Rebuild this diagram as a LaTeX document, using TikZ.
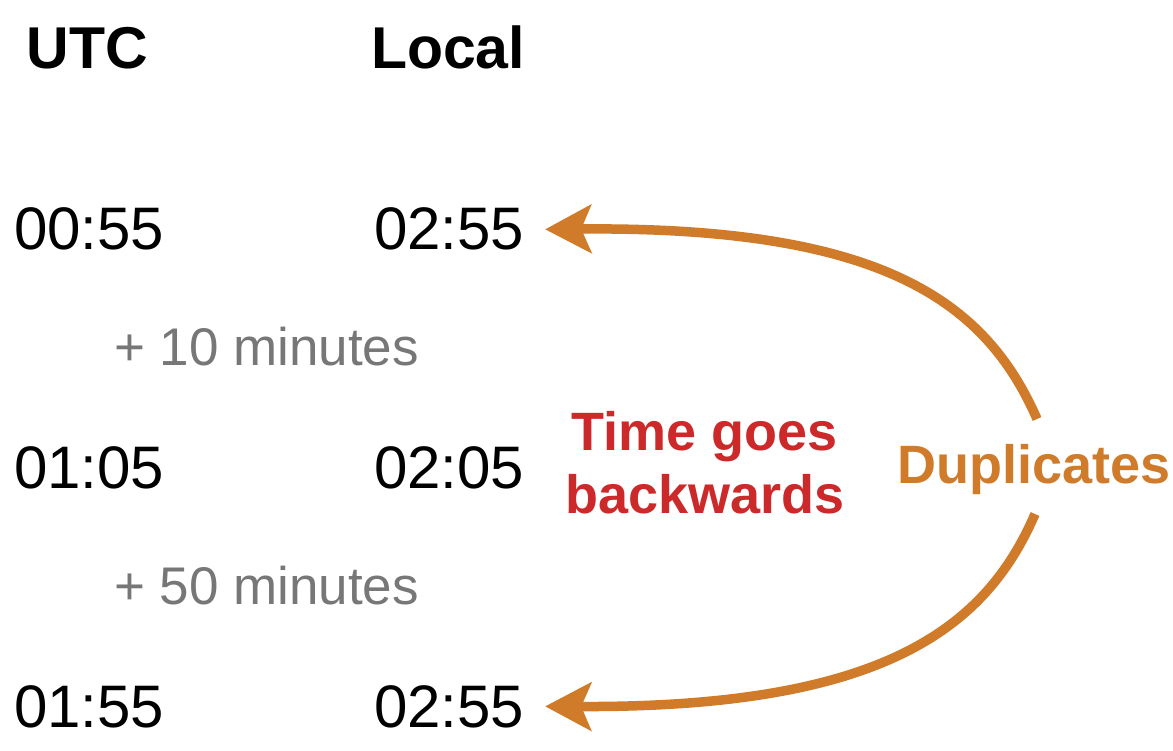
\documentclass[tikz,border=0pt]{standalone}
\usepackage{fontspec}
\setmainfont{Liberation Sans}
\usetikzlibrary{arrows.meta}
\definecolor{dupc}{HTML}{CF7B2A}
\definecolor{redc}{HTML}{CC2A2A}
\definecolor{grayc}{HTML}{777777}
\tikzset{
  txt/.style={anchor=base west, inner sep=0pt, outer sep=0pt},
  hdr/.style={txt, font=\fontsize{59}{62}\selectfont\bfseries},
  tm/.style={txt, font=\fontsize{60}{62}\selectfont},
  dlt/.style={txt, text=grayc, font=\fontsize{53}{56}\selectfont},
  rlbl/.style={anchor=base, inner sep=0pt, text=redc, font=\fontsize{54}{56}\selectfont\bfseries},
  dlbl/.style={anchor=base west, inner sep=0pt, text=dupc, font=\fontsize{54}{56}\selectfont\bfseries},
  duparrow/.style={draw=dupc, line width=9.5pt, -{Stealth[length=46pt,width=48pt,inset=10pt]}}
}
\begin{document}
\begin{tikzpicture}[x=1pt,y=-1pt]
\useasboundingbox (0,0) rectangle (1173,750);
\node[hdr] (utc) at (27,68) {UTC};
\node[hdr] (local) at (371,68) {Local};
\node[tm] (utc1) at (14,249) {00:55};
\node[tm] (loc1) at (374,249) {02:55};
\node[dlt] (d1) at (114,365) {+ 10 minutes};
\node[tm] (utc2) at (14,488) {01:05};
\node[tm] (loc2) at (374,488) {02:05};
\node[dlt] (d2) at (114,604) {+ 50 minutes};
\node[tm] (utc3) at (14,727) {01:55};
\node[tm] (loc3) at (374,727) {02:55};
\node[rlbl] (tg) at (705,450) {Time goes};
\node[rlbl] (bw) at (705,513) {backwards};
\node[dlbl] (dup) at (897,483) {Duplicates};
\coordinate (dtop) at (1037,419);
\coordinate (dbot) at (1035,514);
\draw[duparrow] (dtop) .. controls (985,300) and (880,226) .. ([xshift=21pt,yshift=-1pt]loc1.east);
\draw[duparrow] (dbot) .. controls (985,630) and (880,708) .. ([xshift=21pt]loc3.east);
\end{tikzpicture}
\end{document}
